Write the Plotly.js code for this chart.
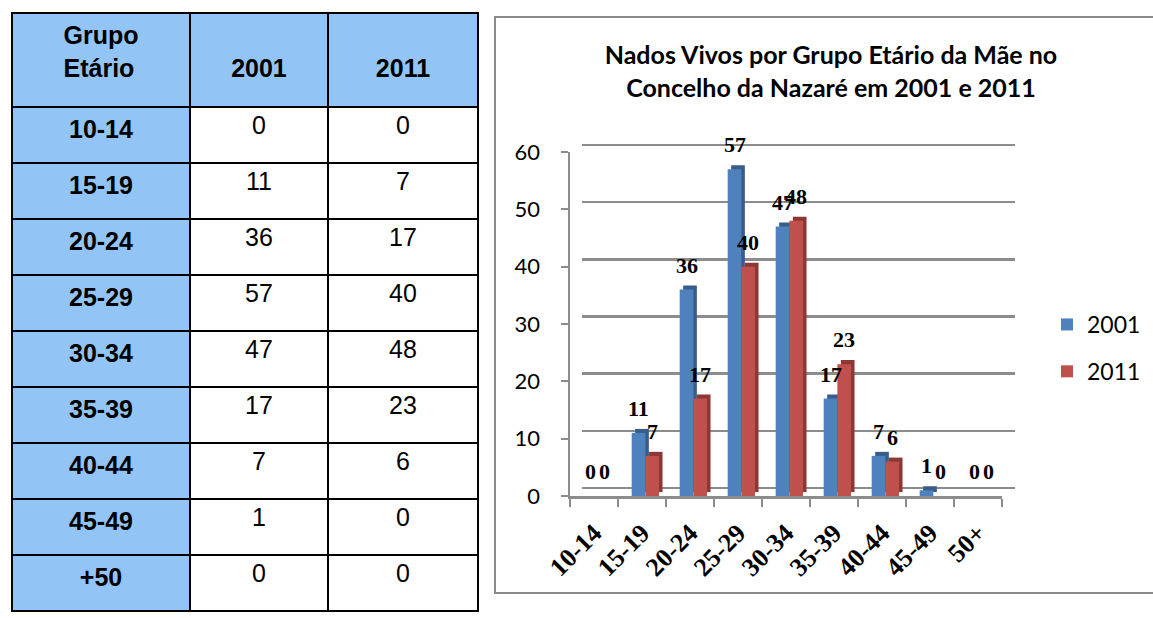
<!DOCTYPE html>
<html>
<head>
<meta charset="utf-8">
<script src="https://cdn.plot.ly/plotly-3.0.1.min.js"></script>
<style>html,body{margin:0;padding:0;background:#fff;}#chart{width:1153px;height:618px;}</style>
</head>
<body>
<div id="chart"></div>
<script>
// ---- data ----
var tableGroups = ["10-14", "15-19", "20-24", "25-29", "30-34", "35-39", "40-44", "45-49", "+50"];
var chartCategories = ["10-14", "15-19", "20-24", "25-29", "30-34", "35-39", "40-44", "45-49", "50+"];
var values2001 = [0, 11, 36, 57, 47, 17, 7, 1, 0];
var values2011 = [0, 7, 17, 40, 48, 23, 6, 0, 0];
var seriesNames = ["2001", "2011"];
var tableHeader = ["Grupo<br>Etário", "2001", "2011"];
var chartTitle = "Nados Vivos por Grupo Etário da Mãe no<br>Concelho da Nazaré em 2001 e 2011";

// ---- style ----
var W = 1153, H = 618;
var blue = "#4F81BD", blueDark = "#385D8A";
var red = "#C0504D", redDark = "#8C3836";
var headBlue = "#92C5F5";
var gridGray = "#8c8c8c";
var catPx = (1002 - 570) / 9;
var barW = 0.285, offB = -0.215, offR = 0.07;
var depthX = 3.5 / catPx, depthY = 0.7;

function px(x) { return x / W; }
function py(y) { return 1 - y / H; }

var traces = [];

// background grid subplot (back wall)
traces.push({type: "scatter", x: [], y: [], xaxis: "x", yaxis: "y", showlegend: false, hoverinfo: "skip"});

// table (single-line header labels get a blank first line so they sit lower)
traces.push({
  type: "table",
  domain: {x: [px(12), px(478)], y: [0, py(13)]},
  columnwidth: [178, 138, 150],
  header: {
    values: tableHeader.map(function (h) {
      return (h.indexOf("<br>") < 0 ? "\u00a0<br>" : "") + "<b>" + h + "</b>";
    }),
    align: "center",
    height: 94,
    line: {color: "#000", width: 2},
    fill: {color: headBlue},
    font: {family: "Liberation Sans, Arial", size: 25, color: "#000"}
  },
  cells: {
    values: [
      tableGroups.map(function (g) { return "<b>" + g + "</b>"; }),
      values2001.map(String),
      values2011.map(String)
    ],
    align: "center",
    height: 56,
    line: {color: "#000", width: 2},
    fill: {color: [headBlue, "#ffffff", "#ffffff"]},
    font: {family: "Liberation Sans, Arial", size: 25, color: "#000"}
  }
});

// bars: depth (side/top faces) then fronts
var series = [
  {name: seriesNames[0], vals: values2001, front: blue, dark: blueDark, off: offB},
  {name: seriesNames[1], vals: values2011, front: red, dark: redDark, off: offR}
];
series.forEach(function (s, k) {
  traces.push({
    type: "bar", x: chartCategories, y: s.vals, base: depthY,
    offset: s.off + depthX, width: barW,
    marker: {color: s.dark, line: {width: 0}},
    xaxis: "x2", yaxis: "y2", showlegend: false, hoverinfo: "skip"
  });
  traces.push({
    type: "bar", x: chartCategories, y: s.vals, name: s.name,
    offset: s.off, width: barW,
    marker: {color: s.front, line: {width: 0}},
    xaxis: "x2", yaxis: "y2", legendgroup: "g" + k
  });
});

// data labels
var annotations = [];
series.forEach(function (s) {
  s.vals.forEach(function (v, i) {
    annotations.push({
      x: chartCategories[i], y: v, xref: "x2", yref: "y2",
      text: "<b>" + v + "</b>", showarrow: false,
      yanchor: "bottom", xanchor: "center",
      xshift: (s.off + barW / 2) * catPx, yshift: 10,
      font: {family: "Liberation Serif, Times New Roman", size: 22, color: "#000"}
    });
  });
});

var layout = {
  width: W, height: H,
  margin: {l: 0, r: 0, t: 0, b: 0},
  paper_bgcolor: "#fff", plot_bgcolor: "rgba(0,0,0,0)",
  barmode: "overlay",
  title: {
    text: "<b>" + chartTitle + "</b>",
    x: px(831), xanchor: "center", xref: "paper",
    y: py(64), yanchor: "top", yref: "paper",
    font: {family: "Lato, Carlito, Calibri", size: 25, color: "#000"}
  },
  xaxis: {domain: [px(582), px(1015)], range: [0, 1], visible: false, fixedrange: true},
  yaxis: {
    domain: [py(493.7), py(139.3)], range: [-1, 61], anchor: "x",
    showgrid: true, gridcolor: gridGray, gridwidth: 2.5, dtick: 10, tick0: 0,
    showticklabels: false, ticks: "", showline: false, zeroline: false
  },
  xaxis2: {
    domain: [px(570), px(1002)], anchor: "y2",
    type: "category",
    showline: true, linecolor: gridGray, linewidth: 2.5,
    ticks: "outside", tickson: "boundaries", ticklen: 8, tickcolor: gridGray, tickwidth: 2,
    tickangle: -45, showgrid: false, zeroline: false,
    tickfont: {family: "Liberation Serif, Times New Roman", size: 26, weight: "bold", color: "#000"},
    ticklabelstandoff: 9
  },
  yaxis2: {
    domain: [py(496), py(152)], range: [0, 60], anchor: "x2",
    dtick: 10, tick0: 0,
    showline: true, linecolor: gridGray, linewidth: 2.5,
    ticks: "outside", ticklen: 7, tickcolor: gridGray, tickwidth: 2,
    showgrid: false, zeroline: false,
    tickfont: {family: "Lato, Carlito, Calibri", size: 22, color: "#000"},
    ticklabelstandoff: 16
  },
  legend: {
    x: px(1047), y: py(303), xanchor: "left", yanchor: "top",
    font: {family: "Lato, Carlito, Calibri", size: 23, color: "#000"},
    tracegroupgap: 14, bgcolor: "rgba(0,0,0,0)"
  },
  showlegend: true,
  annotations: annotations,
  shapes: [
    {type: "rect", xref: "paper", yref: "paper",
     x0: px(495), x1: 1.02, y0: py(593), y1: py(17),
     line: {color: "#8a8a8a", width: 2}, fillcolor: "rgba(0,0,0,0)", layer: "below"}
  ]
};

Plotly.newPlot("chart", traces, layout, {displayModeBar: false, staticPlot: true});
</script>
</body>
</html>
